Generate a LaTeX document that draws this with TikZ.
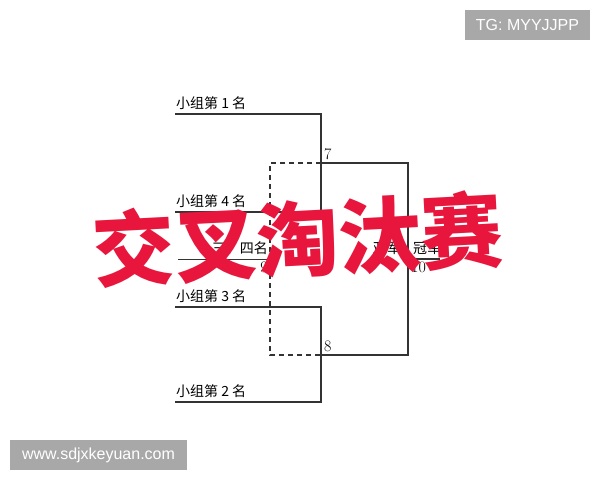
\documentclass[tikz,border=0pt]{standalone}
\usepackage{fontspec}
\newfontfamily\cjk{Noto Sans CJK SC}
\newfontfamily\wmfont{Liberation Sans}
\definecolor{linegray}{HTML}{333333}
\definecolor{wmgray}{HTML}{A8A8A8}
\definecolor{titlered}{HTML}{E8163C}
\begin{document}
\begin{tikzpicture}[x=1pt, y=-1pt]
      \tikzstyle{line} = [draw, line width=1.3pt, color=linegray]
      \tikzstyle{lossline} = [draw, line width=1.1pt, color=linegray, dash pattern=on 5pt off 4pt]
      \tikzstyle{team} = [anchor=south west, inner sep=1pt, font=\cjk\fontsize{14}{14}\selectfont]
      \tikzstyle{match} = [inner sep=1pt, font=\fontsize{16}{16}\selectfont]
      \tikzstyle{watermark} = [fill=wmgray, text=white, font=\wmfont\fontsize{16}{16}\selectfont, inner sep=0pt]
      \tikzstyle{title} = [text=titlered, font=\cjk\bfseries\fontsize{82}{82}\selectfont, inner sep=0pt]
        \fill[white] (0,0) rectangle (600,480);
        \useasboundingbox (0,0) rectangle (600,480);
        % entry points of the bracket
        \coordinate (t1) at (175,114);
        \coordinate (t4) at (175,212);
        \coordinate (t3) at (175,307);
        \coordinate (t2) at (175,402);
        % matches
        \coordinate (m7) at (321,163);
        \coordinate (m8) at (321,355);
        \coordinate (m9) at (270,259);
        \coordinate (m10) at (408,259);
        \coordinate (l9) at (178,259);
        \coordinate (w10) at (440,259);
        \node [team] (g1) at ([yshift=3pt]t1) {小组第 1 名};
        \node [team] (g4) at ([yshift=3pt]t4) {小组第 4 名};
        \node [team] (g3) at ([yshift=3pt]t3) {小组第 3 名};
        \node [team] (g2) at ([yshift=3pt]t2) {小组第 2 名};
        \path [line] (t1) -- (t1 -| m7) |- (t4);
        \path [line] (t3) -- (t3 -| m8) |- (t2);
        \path [line] (m7) -- (m7 -| m10) -- (m8 -| m10) -- (m8);
        \path [line] (m10) -- (w10);
        \path [lossline] (m7) -- (m7 -| m9) -- (m8 -| m9) -- (m8);
        \path [line, line width=0.8pt] (l9) -- (m9);
        \node [match, anchor=south west] (n7) at ([xshift=2pt, yshift=2pt]m7) {7};
        \node [match, anchor=south west] (n8) at ([xshift=2pt, yshift=2pt]m8) {8};
        \node [match, anchor=north east] (n9) at ([xshift=-1pt, yshift=-2pt]m9) {9};
        \node [match, anchor=north west] (n10) at ([xshift=2pt, yshift=-2pt]m10) {10};
        \node [team, anchor=south east] (third) at ([xshift=-1pt, yshift=3pt]m9) {三、四名};
        \node [team, anchor=south east] (second) at ([xshift=-6pt, yshift=3pt]m10) {亚军};
        \node [team] (first) at ([xshift=4pt, yshift=3pt]m10) {冠军};
        \node [watermark, minimum width=125pt, minimum height=30pt] (tg) at (527.5,25) {TG: MYYJJPP};
        \node [watermark, minimum width=177pt, minimum height=30pt] (site) at (98.5,455) {www.sdjxkeyuan.com};
        \node [title, rotate=3] (banner) at (298,239) {交叉淘汰赛};
      \end{tikzpicture}
\end{document}
